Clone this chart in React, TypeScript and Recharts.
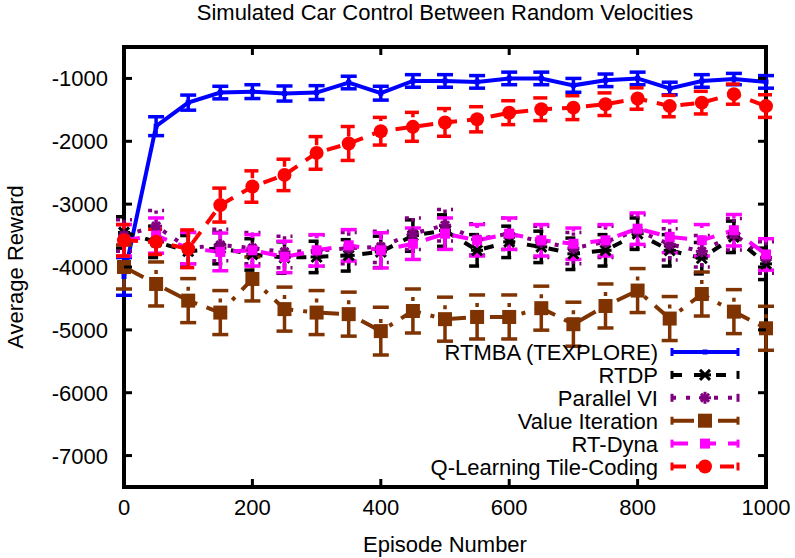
import { LineChart, Line, XAxis, YAxis, ErrorBar, ReferenceArea, Legend, Label } from "recharts";

const episodes = [0, 50, 100, 150, 200, 250, 300, 350, 400, 450, 500, 550, 600, 650, 700, 750, 800, 850, 900, 950, 1000];

const rtmba = [-4150, -1760, -1385, -1225, -1210, -1240, -1225, -1065, -1235, -1040, -1040, -1055, -1000, -1000, -1110, -1030, -1000, -1160, -1040, -1010, -1055];
const rtmbaErr = [300, 150, 120, 100, 110, 120, 110, 100, 110, 100, 100, 100, 100, 100, 110, 100, 100, 100, 100, 90, 100];

const rtdp = [-3450, -3600, -3750, -3700, -3800, -3850, -3840, -3815, -3760, -3500, -3420, -3735, -3600, -3680, -3790, -3735, -3470, -3735, -3860, -3520, -3950];
const rtdpErr = [250, 250, 250, 250, 250, 250, 250, 250, 250, 250, 250, 250, 250, 250, 250, 250, 250, 250, 250, 250, 250];

const parallelVI = [-3500, -3350, -3700, -3650, -3700, -3760, -3740, -3700, -3680, -3470, -3335, -3560, -3470, -3600, -3700, -3600, -3420, -3640, -3750, -3480, -3850];
const parallelVIErr = [250, 250, 250, 250, 250, 250, 250, 250, 250, 250, 250, 250, 250, 250, 250, 250, 250, 250, 250, 250, 250];

const valueIter = [-4000, -4270, -4535, -4725, -4190, -4670, -4725, -4750, -5020, -4700, -4830, -4795, -4795, -4655, -4910, -4620, -4375, -4820, -4430, -4710, -4975];
const valueIterErr = [350, 350, 350, 350, 350, 350, 350, 350, 380, 350, 350, 350, 350, 350, 350, 350, 350, 350, 350, 350, 350];

const rtDyna = [-3575, -3500, -3700, -3760, -3735, -3840, -3735, -3655, -3735, -3630, -3470, -3575, -3470, -3575, -3630, -3575, -3390, -3520, -3575, -3415, -3800];
const rtDynaErr = [250, 280, 250, 300, 250, 250, 250, 250, 280, 250, 250, 250, 250, 250, 250, 250, 250, 250, 250, 250, 250];

const qLearning = [-3575, -3600, -3710, -3015, -2720, -2535, -2185, -2035, -1840, -1770, -1700, -1650, -1545, -1490, -1465, -1410, -1320, -1440, -1385, -1250, -1440];
const qLearningErr = [250, 200, 300, 270, 250, 250, 260, 270, 220, 230, 220, 200, 190, 180, 190, 180, 170, 170, 180, 160, 180];

const xTicks = [0, 200, 400, 600, 800, 1000];
const yTicks = [-1000, -2000, -3000, -4000, -5000, -6000, -7000];

const data = episodes.map((episode, i) => ({
  episode,
  rtmba: rtmba[i],
  rtmbaErr: rtmbaErr[i],
  rtdp: rtdp[i],
  rtdpErr: rtdpErr[i],
  parallelVI: parallelVI[i],
  parallelVIErr: parallelVIErr[i],
  valueIter: valueIter[i],
  valueIterErr: valueIterErr[i],
  rtDyna: rtDyna[i],
  rtDynaErr: rtDynaErr[i],
  qLearning: qLearning[i],
  qLearningErr: qLearningErr[i],
}));

type MarkerKind = "point" | "cross" | "star" | "square" | "smallSquare" | "circle";

const series: { key: string; name: string; color: string; dash?: string; marker: MarkerKind }[] = [
  { key: "rtmba", name: "RTMBA (TEXPLORE)", color: "#0000ff", marker: "point" },
  { key: "rtdp", name: "RTDP", color: "#000000", dash: "10 12", marker: "cross" },
  { key: "parallelVI", name: "Parallel VI", color: "#800080", dash: "4 10", marker: "star" },
  { key: "valueIter", name: "Value Iteration", color: "#7f3300", dash: "22 10 4 10", marker: "square" },
  { key: "rtDyna", name: "RT-Dyna", color: "#ff00ff", dash: "16 12", marker: "smallSquare" },
  { key: "qLearning", name: "Q-Learning Tile-Coding", color: "#ff0000", dash: "14 10", marker: "circle" },
];

const W = 795;
const H = 558;
const PLOT_LEFT = 124;
const PLOT_RIGHT = 766;
const PLOT_TOP = 47;
const PLOT_BOTTOM = 487;
const Y_AXIS_W = 60;
const X_AXIS_H = 30;
const FONT = "'Liberation Sans', Arial, sans-serif";

function drawMarker(kind: MarkerKind, color: string, cx: number, cy: number, key?: string) {
  switch (kind) {
    case "point":
      return <rect key={key} x={cx - 2.5} y={cy - 2.5} width={5} height={5} fill={color} />;
    case "cross":
      return (
        <g key={key} stroke={color} strokeWidth={3}>
          <line x1={cx - 5} y1={cy - 5} x2={cx + 5} y2={cy + 5} />
          <line x1={cx - 5} y1={cy + 5} x2={cx + 5} y2={cy - 5} />
          <line x1={cx - 6} y1={cy} x2={cx + 6} y2={cy} />
        </g>
      );
    case "star":
      return (
        <g key={key} stroke={color} strokeWidth={3}>
          <line x1={cx - 6} y1={cy} x2={cx + 6} y2={cy} />
          <line x1={cx} y1={cy - 6} x2={cx} y2={cy + 6} />
          <line x1={cx - 4} y1={cy - 4} x2={cx + 4} y2={cy + 4} />
          <line x1={cx - 4} y1={cy + 4} x2={cx + 4} y2={cy - 4} />
        </g>
      );
    case "square":
      return <rect key={key} x={cx - 7} y={cy - 7} width={14} height={14} fill={color} />;
    case "smallSquare":
      return <rect key={key} x={cx - 5} y={cy - 5} width={10} height={10} fill={color} />;
    case "circle":
      return <circle key={key} cx={cx} cy={cy} r={7} fill={color} />;
  }
}

function XTick(props: any) {
  const { x, payload } = props;
  return (
    <g>
      <line x1={x} y1={PLOT_BOTTOM} x2={x} y2={PLOT_BOTTOM - 8} stroke="#000" strokeWidth={3} />
      <line x1={x} y1={PLOT_TOP} x2={x} y2={PLOT_TOP + 8} stroke="#000" strokeWidth={3} />
      <text x={x} y={PLOT_BOTTOM + 28} textAnchor="middle" fontSize={22} fontFamily={FONT} fill="#000">
        {payload.value}
      </text>
    </g>
  );
}

function YTick(props: any) {
  const { y, payload } = props;
  return (
    <g>
      <line x1={PLOT_LEFT} y1={y} x2={PLOT_LEFT + 8} y2={y} stroke="#000" strokeWidth={3} />
      <line x1={PLOT_RIGHT} y1={y} x2={PLOT_RIGHT - 8} y2={y} stroke="#000" strokeWidth={3} />
      <text x={PLOT_LEFT - 16} y={y + 8} textAnchor="end" fontSize={22} fontFamily={FONT} fill="#000">
        {payload.value}
      </text>
    </g>
  );
}

function LegendBox() {
  return (
    <svg width={350} height={150} style={{ overflow: "visible" }}>
      {series.map((s, i) => {
        const cy = 17 + i * 22.9;
        return (
          <g key={s.key}>
            <text x={238} y={cy + 8} textAnchor="end" fontSize={22} fontFamily={FONT} fill="#000">
              {s.name}
            </text>
            <line x1={252} y1={cy} x2={318} y2={cy} stroke={s.color} strokeWidth={4} strokeDasharray={s.dash} />
            <line x1={252} y1={cy - 4} x2={252} y2={cy + 4} stroke={s.color} strokeWidth={3} />
            <line x1={318} y1={cy - 4} x2={318} y2={cy + 4} stroke={s.color} strokeWidth={3} />
            {drawMarker(s.marker, s.color, 285, cy)}
          </g>
        );
      })}
    </svg>
  );
}

export default function App() {
  return (
    <div style={{ position: "absolute", left: 0, top: 0, width: W, height: H, background: "#fff", fontFamily: FONT }}>
      <div
        style={{
          position: "absolute",
          left: PLOT_LEFT,
          width: PLOT_RIGHT - PLOT_LEFT,
          top: 2,
          textAlign: "center",
          fontSize: 22,
          lineHeight: "22px",
          color: "#000",
          whiteSpace: "nowrap",
        }}
      >
        Simulated Car Control Between Random Velocities
      </div>
      <LineChart
        width={W}
        height={H}
        data={data}
        margin={{
          top: PLOT_TOP,
          right: W - PLOT_RIGHT,
          bottom: H - PLOT_BOTTOM - X_AXIS_H,
          left: PLOT_LEFT - Y_AXIS_W,
        }}
      >
        <XAxis
          dataKey="episode"
          type="number"
          domain={[0, 1000]}
          ticks={xTicks}
          height={X_AXIS_H}
          tickSize={0}
          tickMargin={0}
          axisLine={false}
          tickLine={false}
          tick={XTick}
          interval={0}
        >
          <Label
            content={() => (
              <text x={(PLOT_LEFT + PLOT_RIGHT) / 2} y={552} textAnchor="middle" fontSize={22} fontFamily={FONT} fill="#000">
                Episode Number
              </text>
            )}
          />
        </XAxis>
        <YAxis
          type="number"
          domain={[-7500, -500]}
          ticks={yTicks}
          width={Y_AXIS_W}
          tickSize={0}
          tickMargin={0}
          axisLine={false}
          tickLine={false}
          tick={YTick}
          interval={0}
          allowDataOverflow
        >
          <Label
            content={() => (
              <text
                x={23}
                y={267}
                transform="rotate(-90 23 267)"
                textAnchor="middle"
                fontSize={22}
                fontFamily={FONT}
                fill="#000"
              >
                Average Reward
              </text>
            )}
          />
        </YAxis>
        <ReferenceArea x1={0} x2={1000} y1={-7500} y2={-500} fill="none" stroke="#000" strokeWidth={4} />
        {series.map((s) => (
          <Line
            key={s.key}
            dataKey={s.key}
            name={s.name}
            type="linear"
            stroke={s.color}
            strokeWidth={4}
            strokeDasharray={s.dash}
            isAnimationActive={false}
            dot={(p: any) => drawMarker(s.marker, s.color, p.cx, p.cy, `${s.key}-${p.index}`)}
            activeDot={false}
          >
            <ErrorBar
              dataKey={`${s.key}Err`}
              direction="y"
              width={8}
              stroke={s.color}
              strokeWidth={3.5}
              strokeDasharray={s.dash}
              isAnimationActive={false}
            />
          </Line>
        ))}
        <Legend
          layout="horizontal"
          verticalAlign="middle"
          align="center"
          wrapperStyle={{ position: "absolute", left: 420, top: 335, width: 350, height: 150 }}
          content={() => <LegendBox />}
        />
      </LineChart>
    </div>
  );
}
